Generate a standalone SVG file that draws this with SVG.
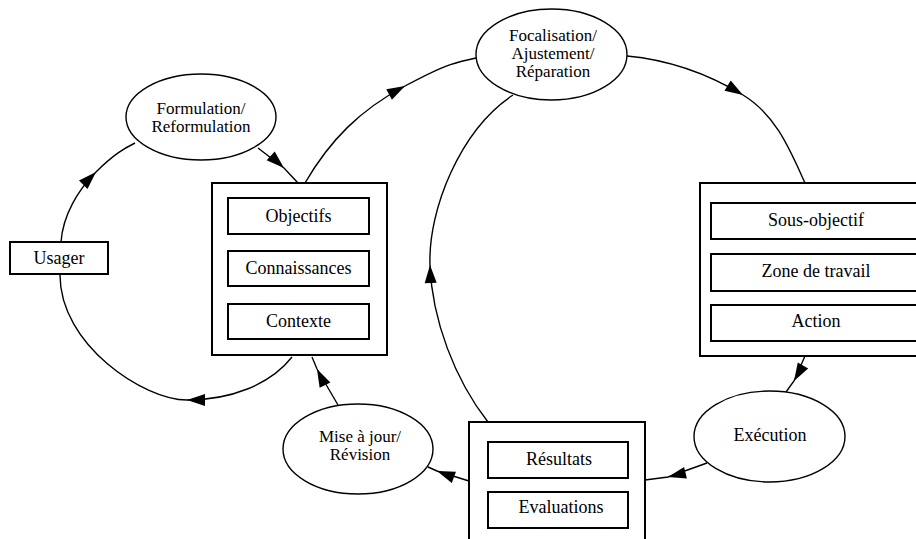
<svg xmlns="http://www.w3.org/2000/svg" width="916" height="539" viewBox="0 0 916 539">
<style>
text{font-family:'Liberation Serif','DejaVu Serif',serif;font-size:18px;fill:#000;text-anchor:middle}
text.ml{font-size:17px}
.box{fill:#fff;stroke:#000;stroke-width:2}
.ell{fill:#fff;stroke:#000;stroke-width:1.4}
.edge{fill:none;stroke:#000;stroke-width:1.4;marker-mid:url(#ah)}
</style>
<defs>
<marker id="ah" markerUnits="userSpaceOnUse" viewBox="0 0 18 12" markerWidth="18" markerHeight="12" refX="18" refY="6" orient="auto" overflow="visible">
<path d="M0,0 L18,6 L0,12 Z" fill="#000"/>
</marker>
</defs>
<g id="connectors">
<path class="edge" d="M61,242 C63,215 78,190 96,172 S125,148 135,143"/>
<path class="edge" d="M258,148 L284,168 L298,183"/>
<path class="edge" d="M292,357 C270,385 230,400 187,400 S60,345 60,275"/>
<path class="edge" d="M305,183 C330,140 360,110 405,86 S455,63 476,58"/>
<path class="edge" d="M627,56 C670,60 710,75 743,95 S790,150 805,183"/>
<path class="edge" d="M805,356 L794,381 L786,392"/>
<path class="edge" d="M707,463 L668,477 L645,480"/>
<path class="edge" d="M469,481 L437,471 L428,467"/>
<path class="edge" d="M338,405 L317,369 L312,357"/>
<path class="edge" d="M488,422 C455,380 432,320 430,265 S460,130 513,95"/>
</g>
<g id="usager">
<rect class="box" x="10" y="242" width="98" height="32"/>
<text x="59" y="264">Usager</text>
</g>
<g id="formulation">
<ellipse class="ell" cx="201" cy="117" rx="75" ry="43"/>
<text class="ml" x="201" y="114">Formulation/</text>
<text class="ml" x="201" y="132">Reformulation</text>
</g>
<g id="focalisation">
<ellipse class="ell" cx="551.5" cy="54.5" rx="75.5" ry="45.5"/>
<text class="ml" x="553" y="41">Focalisation/</text>
<text class="ml" x="553" y="59">Ajustement/</text>
<text class="ml" x="553" y="77">Réparation</text>
</g>
<g id="modele">
<rect class="box" x="212" y="183" width="175" height="172"/>
<rect class="box" x="228" y="198" width="141" height="36"/>
<text x="298.5" y="222">Objectifs</text>
<rect class="box" x="228" y="251" width="141" height="35"/>
<text x="298.5" y="274">Connaissances</text>
<rect class="box" x="228" y="304" width="141" height="35"/>
<text x="298.5" y="327">Contexte</text>
</g>
<g id="plan">
<rect class="box" x="700" y="183" width="240" height="173"/>
<rect class="box" x="711" y="203" width="210" height="36"/>
<text x="816" y="226">Sous-objectif</text>
<rect class="box" x="711" y="254" width="210" height="37"/>
<text x="816" y="277">Zone de travail</text>
<rect class="box" x="711" y="305" width="210" height="36"/>
<text x="816" y="327">Action</text>
</g>
<g id="execution">
<ellipse class="ell" cx="769.5" cy="436.5" rx="75.5" ry="45.5"/>
<text x="770" y="441">Exécution</text>
</g>
<g id="resultats">
<rect class="box" x="469" y="422" width="176" height="140"/>
<rect class="box" x="488" y="442" width="140" height="36"/>
<text x="559" y="465">Résultats</text>
<rect class="box" x="488" y="492" width="140" height="36"/>
<text x="561" y="513">Evaluations</text>
</g>
<g id="miseajour">
<ellipse class="ell" cx="358" cy="449" rx="75" ry="45"/>
<text class="ml" x="360" y="442">Mise à jour/</text>
<text class="ml" x="360" y="460">Révision</text>
</g>
</svg>
